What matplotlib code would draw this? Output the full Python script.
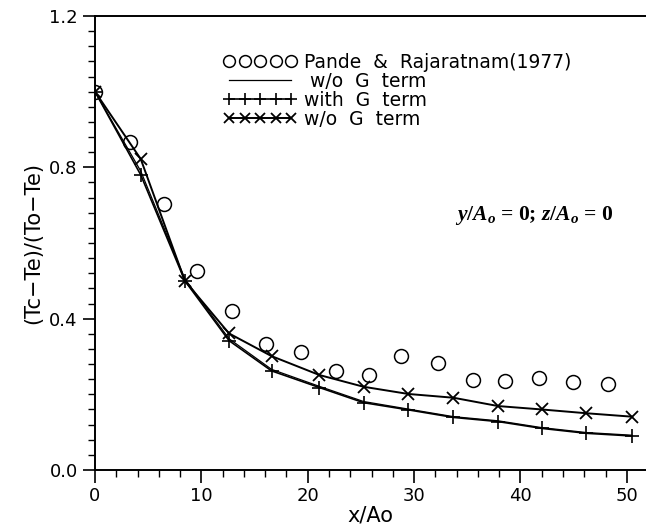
import matplotlib
matplotlib.use("Agg")
import matplotlib.pyplot as plt
from matplotlib.ticker import MultipleLocator, FormatStrFormatter

plt.rcParams['font.family'] = 'DejaVu Sans'
plt.rcParams['mathtext.fontset'] = 'custom'
plt.rcParams['mathtext.it'] = 'Liberation Serif:italic:bold'
plt.rcParams['mathtext.rm'] = 'Liberation Serif:bold'

# ===================== DATA =====================
# Pande & Rajaratnam (1977) measurements
x_exp = [0, 3.3, 6.5, 9.6, 12.85, 16.1, 19.35, 22.65, 25.8, 28.8, 32.2, 35.5, 38.5, 41.7, 44.95, 48.2]
y_exp = [1.0, 0.866, 0.703, 0.527, 0.421, 0.333, 0.313, 0.262, 0.251, 0.301, 0.284, 0.237, 0.236, 0.242, 0.232, 0.226]

# model stations
x_mod = [0, 4.3, 8.45, 12.6, 16.6, 21.1, 25.25, 29.45, 33.7, 37.9, 42.0, 46.2, 50.45]
y_wo_line = [1.0, 0.79, 0.505, 0.347, 0.266, 0.221, 0.181, 0.161, 0.141, 0.130, 0.112, 0.099, 0.092]
y_with = [1.0, 0.78, 0.50, 0.342, 0.262, 0.218, 0.178, 0.159, 0.139, 0.128, 0.110, 0.097, 0.090]
y_wo_x = [1.0, 0.822, 0.50, 0.361, 0.301, 0.251, 0.220, 0.201, 0.191, 0.169, 0.160, 0.150, 0.141]

# ===================== FIGURE =====================
fig = plt.figure(figsize=(6.46, 5.32), dpi=100)
ax = fig.add_axes([95/646, 62/532, 551/646, 454/532])

ax.plot(x_exp, y_exp, linestyle='none', marker='o', markersize=10,
        markerfacecolor='none', markeredgecolor='black', markeredgewidth=1.1,
        label="Pande  &  Rajaratnam(1977)")
ax.plot(x_mod, y_wo_line, color='black', linewidth=0.9, label=" w/o  G  term")
ax.plot(x_mod, y_with, color='black', linewidth=1.2, marker='+', markersize=10,
        markeredgewidth=1.2, label="with  G  term")
ax.plot(x_mod, y_wo_x, color='black', linewidth=1.4, marker='x', markersize=8,
        markeredgewidth=1.3, label="w/o  G  term")

ax.set_xlim(0, 51.8)
ax.set_ylim(0, 1.2)
ax.xaxis.set_major_locator(MultipleLocator(10))
ax.xaxis.set_minor_locator(MultipleLocator(2))
ax.yaxis.set_major_locator(MultipleLocator(0.4))
ax.yaxis.set_minor_locator(MultipleLocator(0.04))
ax.yaxis.set_major_formatter(FormatStrFormatter('%.1f'))
ax.tick_params(which='major', direction='out', length=9, width=1.2, labelsize=13)
ax.tick_params(which='minor', direction='out', length=5, width=1.0)
ax.spines['right'].set_visible(False)
for s in ['left', 'bottom', 'top']:
    ax.spines[s].set_linewidth(1.4)

ax.set_xlabel("x/Ao", fontsize=15, labelpad=0)
ax.set_ylabel("(Tc\u2212Te)/(To\u2212Te)", fontsize=15, labelpad=4)

ax.text(41.3, 0.672, r"$y/A_o$ = 0; $z/A_o$ = 0", fontsize=15.5, ha='center', va='center',
        family='Liberation Serif', fontweight='bold')

ax.legend(loc='upper left', bbox_to_anchor=(0.22, 0.935), frameon=False,
          numpoints=5, markerscale=0.85, handlelength=3.9, handletextpad=0.4,
          labelspacing=0.0, fontsize=13.5, borderaxespad=0)

fig.savefig("out.png", dpi=100)
